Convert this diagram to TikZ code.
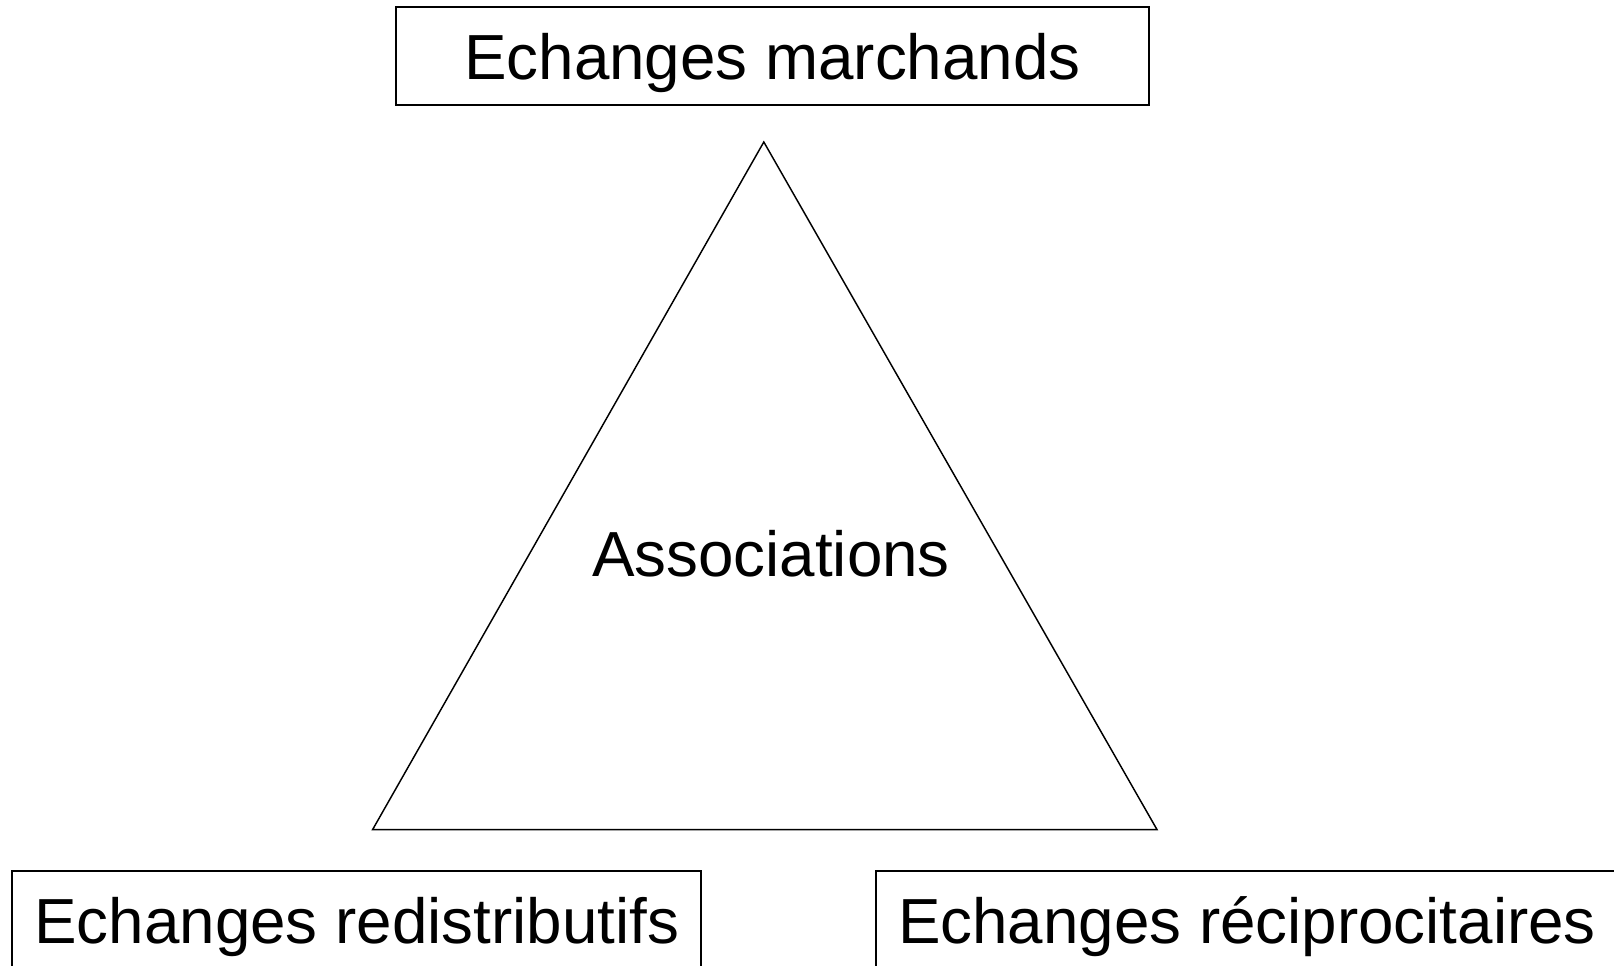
\documentclass[tikz,border=0pt]{standalone}
\usepackage{fontspec}
\setmainfont{Liberation Sans}
\tikzset{every picture/.style={line width=1.1pt}}
\tikzset{echbox/.style={draw, inner sep=0pt, text depth=0pt, minimum height=73.5pt, font=\fontsize{47.8}{57}\selectfont}}

\begin{document}
\begin{tikzpicture}[x=0.75pt,y=0.75pt,yscale=-1,xscale=1]
\clip (0,0) rectangle (1614,966);
\useasboundingbox (0,0) rectangle (1614,966);

%Shape: Triangle
\coordinate (apex) at (763.8,142);
\coordinate (left) at (372.6,829.6);
\coordinate (right) at (1157,829.6);
\draw (apex) -- (left) -- (right) -- cycle ;

% Text Node
\node (assoc) at (771,553) [inner sep=0pt, text depth=0pt, font=\fontsize{47.8}{57}\selectfont] {Associations};
% Text Node
\node (march) at (772.5,56) [echbox, minimum width=564.75pt] {Echanges marchands};
% Text Node
\node (redis) at (356.7,920) [echbox, minimum width=516.75pt] {Echanges redistributifs};
% Text Node
\node (recip) at (1247,920) [echbox, minimum width=556.5pt] {Echanges réciprocitaires};
\end{tikzpicture}
\end{document}
